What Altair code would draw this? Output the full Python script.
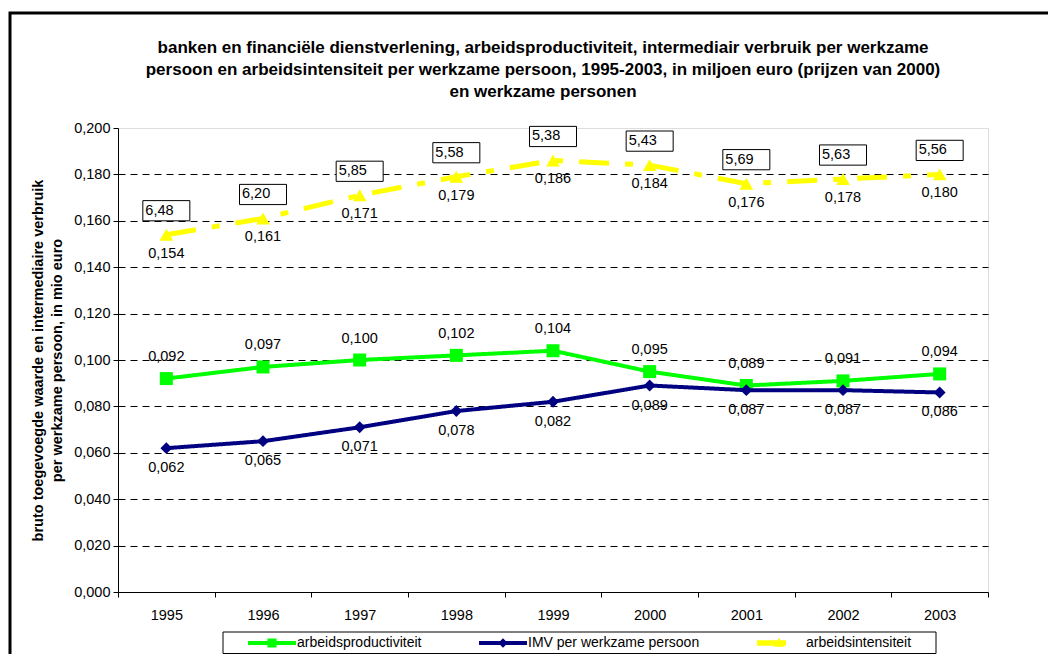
import altair as alt
import pandas as pd

FONT = "Liberation Sans"

years = ["1995", "1996", "1997", "1998", "1999", "2000", "2001", "2002", "2003"]
productivity = [0.092, 0.097, 0.100, 0.102, 0.104, 0.095, 0.089, 0.091, 0.094]
imv = [0.062, 0.065, 0.071, 0.078, 0.082, 0.089, 0.087, 0.087, 0.086]
intensity = [0.154, 0.161, 0.171, 0.179, 0.186, 0.184, 0.176, 0.178, 0.180]
persons_per_mio = [6.48, 6.20, 5.85, 5.58, 5.38, 5.43, 5.69, 5.63, 5.56]

series_names = ["arbeidsproductiviteit", "IMV per werkzame persoon", "arbeidsintensiteit"]
series_colors = ["#00FF00", "#000080", "#FFFF00"]
y_ticks = [0.0, 0.02, 0.04, 0.06, 0.08, 0.10, 0.12, 0.14, 0.16, 0.18, 0.20]

title_lines = [
    "banken en financiële dienstverlening, arbeidsproductiviteit, intermediair verbruik per werkzame",
    "persoon en arbeidsintensiteit per werkzame persoon, 1995-2003, in miljoen euro (prijzen van 2000)",
    "en werkzame personen",
]
y_title = ["bruto toegevoegde waarde en intermediaire verbruik", "per werkzame persoon, in mio euro"]


def fmt(v, d):
    return f"{v:.{d}f}".replace(".", ",")


rows = []
for name, vals in zip(series_names, [productivity, imv, intensity]):
    for i, (yr, v) in enumerate(zip(years, vals)):
        rows.append({"year": yr, "series": name, "value": v, "label": fmt(v, 3),
                     "box": fmt(persons_per_mio[i], 2)})
df = pd.DataFrame(rows)

LBL = 14.5

x_enc = alt.X(
    "year:N",
    scale=alt.Scale(type="band", domain=years, paddingInner=0, paddingOuter=0),
    axis=alt.Axis(title=None, labelAngle=0, tickBand="extent", domainColor="black",
                  tickColor="black", tickSize=5, labelFont=FONT, labelFontSize=LBL,
                  labelColor="black", labelPadding=11, grid=False),
)
y_enc = alt.Y(
    "value:Q",
    scale=alt.Scale(domain=[0, 0.2], nice=False, zero=True),
    axis=alt.Axis(
        values=y_ticks,
        labelExpr="replace(format(datum.value, '.3f'), '.', ',')",
        labelFont=FONT, labelFontSize=LBL, labelColor="black", labelPadding=3,
        tickColor="black", tickSize=5, domainColor="black",
        grid=True, gridColor="black", gridDash=[7, 5], gridWidth=1,
        gridOpacity={"condition": {"test": "datum.value > 0.199 || datum.value < 0.001", "value": 0},
                     "value": 1},
        title=y_title, titleFont=FONT, titleFontSize=14.5, titleFontWeight="bold",
        titleColor="black", titleAngle=-90, titleX=-80, titleY=232,
        titleAlign="center", titleBaseline="middle", titleLineHeight=19,
    ),
)

one = pd.DataFrame({"k": [0]})
frame = alt.Chart(one).mark_rect(fill=None, stroke="black", strokeWidth=3).encode(
    x=alt.value(-108), x2=alt.value(990), y=alt.value(-115), y2=alt.value(620)
)
legend_box = alt.Chart(one).mark_rect(fill="white", stroke="black", strokeWidth=1).encode(
    x=alt.value(105), x2=alt.value(818), y=alt.value(504), y2=alt.value(525.5)
)
title_text = alt.Chart(one).mark_text(
    text=title_lines, font=FONT, fontSize=17, fontWeight="bold", color="black",
    align="center", baseline="middle", lineHeight=22,
).encode(x=alt.value(425), y=alt.value(-80))

layers = [frame, legend_box, title_text]

styles = [
    dict(color="#00FF00", width=4, dash=[1, 0], shape="square", size=169, dy=-21.5),
    dict(color="#000080", width=4, dash=[1, 0], shape="diamond", size=140, dy=20),
    dict(color="#FFFF00", width=5, dash=[30, 16, 8, 16], shape="triangle-up", size=190, dy=19),
]

for name, st in zip(series_names, styles):
    base = alt.Chart(df).transform_filter(alt.datum.series == name)
    layers.append(base.mark_line(color=st["color"], strokeWidth=st["width"],
                                 strokeDash=st["dash"]).encode(x=x_enc, y=y_enc))
    layers.append(base.mark_point(shape=st["shape"], size=st["size"], filled=True,
                                  color=st["color"], opacity=1).encode(x=x_enc, y=y_enc))

# value labels
for name, st in zip(series_names, styles):
    base = alt.Chart(df).transform_filter(alt.datum.series == name)
    layers.append(base.mark_text(font=FONT, fontSize=LBL, color="black", dy=st["dy"],
                                 baseline="middle").encode(x=x_enc, y=y_enc, text="label:N"))

# boxed labels above the arbeidsintensiteit series
box_base = alt.Chart(df).transform_filter(alt.datum.series == series_names[2])
layers.append(box_base.mark_point(shape="M-1,-0.43L1,-0.43L1,0.43L-1,0.43Z", size=2209,
                                  filled=True, fill="white", stroke="black", strokeWidth=1,
                                  opacity=1, yOffset=-24).encode(x=x_enc, y=y_enc))
layers.append(box_base.mark_text(font=FONT, fontSize=LBL, color="black", align="left",
                                 baseline="middle", dx=-21, dy=-24).encode(x=x_enc, y=y_enc, text="box:N"))

legend_shapes = [
    "M-1,-0.083L1,-0.083L1,0.083L-1,0.083Z M-0.19,-0.19L0.19,-0.19L0.19,0.19L-0.19,0.19Z",
    "M-1,-0.083L1,-0.083L1,0.083L-1,0.083Z M0,-0.2L0.2,0L0,0.2L-0.2,0Z",
    "M-1,-0.11L0.21,-0.11L0.21,0.11L-1,0.11Z M-0.083,-0.22L0.13,0.16L-0.3,0.16Z",
]
leg = alt.Legend(orient="none", legendX=130, legendY=491, direction="horizontal",
                 title=None, labelFont=FONT, labelFontSize=14, labelLimit=400,
                 labelColor="black", labelOffset=1, columnPadding=57,
                 padding=0, symbolSize=2304, symbolStrokeWidth=0, symbolOffset=0)
legend_layer = alt.Chart(df).transform_filter("false").mark_point(
    filled=True, opacity=1, size=2304, strokeWidth=0
).encode(
    color=alt.Color("series:N", scale=alt.Scale(domain=series_names, range=series_colors), legend=leg),
    shape=alt.Shape("series:N", scale=alt.Scale(domain=series_names, range=legend_shapes), legend=leg),
)
layers.append(legend_layer)

chart = alt.layer(*layers).properties(
    width=870, height=464,
    autosize=alt.AutoSizeParams(type="none"),
    padding={"left": 110, "top": 120, "right": 60, "bottom": 62},
).configure_view(fill="#C0C0C0", stroke="#808080", strokeWidth=1).configure(background="white")

chart.save("out.html", embed_options={"renderer": "svg", "actions": False})
